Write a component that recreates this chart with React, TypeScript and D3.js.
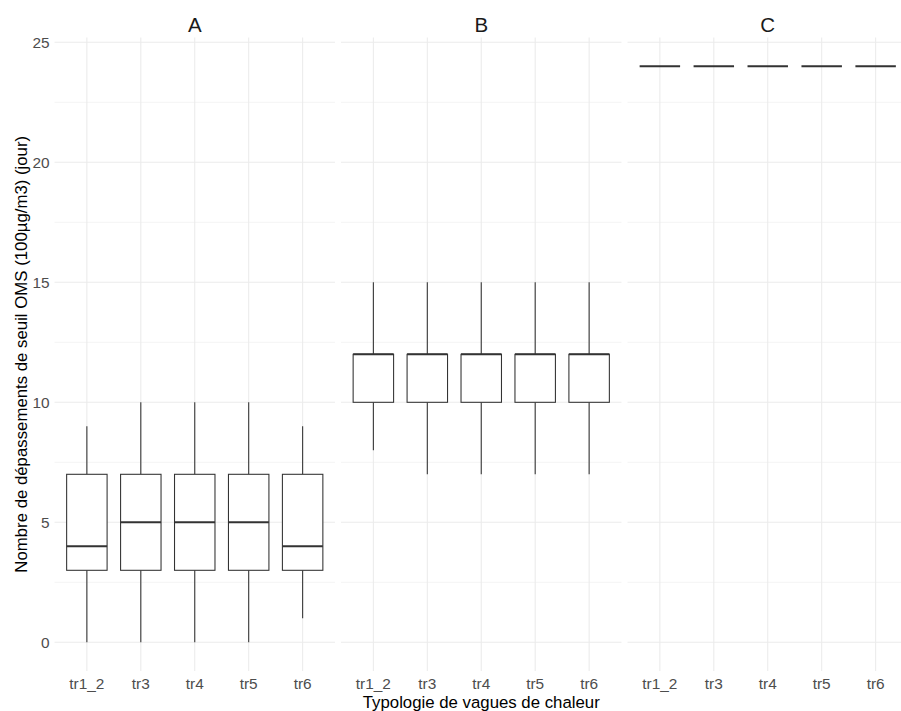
import React from "react";
import * as d3 from "d3";

// ---- data ----
const panels = ["A", "B", "C"];
const categories = ["tr1_2", "tr3", "tr4", "tr5", "tr6"];
// per panel (A, B, C), per category
const whiskerLow = [
  [0, 0, 0, 0, 1],
  [8, 7, 7, 7, 7],
  [24, 24, 24, 24, 24],
];
const quartile1 = [
  [3, 3, 3, 3, 3],
  [10, 10, 10, 10, 10],
  [24, 24, 24, 24, 24],
];
const medians = [
  [4, 5, 5, 5, 4],
  [12, 12, 12, 12, 12],
  [24, 24, 24, 24, 24],
];
const quartile3 = [
  [7, 7, 7, 7, 7],
  [12, 12, 12, 12, 12],
  [24, 24, 24, 24, 24],
];
const whiskerHigh = [
  [9, 10, 10, 10, 9],
  [15, 15, 15, 15, 15],
  [24, 24, 24, 24, 24],
];
const yTicks = [0, 5, 10, 15, 20, 25];
const yMinorTicks = [2.5, 7.5, 12.5, 17.5, 22.5];
const yDomain = [-1.2, 25.2];

const xTitle = "Typologie de vagues de chaleur";
const yTitle = "Nombre de dépassements de seuil OMS (100µg/m3) (jour)";

// ---- layout ----
const W = 901;
const H = 711;
const panelLeft = 54.5;
const panelWidth = 280.5;
const panelGap = 6;
const panelTop = 37.5;
const panelBottom = 671.1;
const FONT = "'Liberation Sans', Arial, Helvetica, sans-serif";

export default function App() {
  const y = d3.scaleLinear().domain(yDomain).range([panelBottom, panelTop]);
  const grid = "#ebebeb";
  const boxStroke = "#333333";

  return (
    <svg
      width={W}
      height={H}
      style={{ position: "absolute", left: 0, top: 0, background: "#fff" }}
      fontFamily={FONT}
    >
      <rect x={0} y={0} width={W} height={H} fill="#ffffff" />
      {panels.map((p, pi) => {
        const x0 = panelLeft + pi * (panelWidth + panelGap);
        const x1 = x0 + panelWidth;
        const x = d3.scalePoint<string>().domain(categories).range([x0, x1]).padding(0.6);
        const bw = x.step() * 0.75;
        return (
          <g key={p}>
            {/* minor grid */}
            {yMinorTicks.map((t) => (
              <line key={"mi" + t} x1={x0} x2={x1} y1={y(t)} y2={y(t)} stroke={grid} strokeWidth={0.55} />
            ))}
            {/* major grid */}
            {yTicks.map((t) => (
              <line key={"ma" + t} x1={x0} x2={x1} y1={y(t)} y2={y(t)} stroke={grid} strokeWidth={1.07} />
            ))}
            {categories.map((c) => (
              <line key={"v" + c} x1={x(c)} x2={x(c)} y1={panelTop} y2={panelBottom} stroke={grid} strokeWidth={1.07} />
            ))}
            {/* boxes */}
            {categories.map((c, ci) => {
              const cx = x(c) as number;
              const lo = whiskerLow[pi][ci];
              const q1 = quartile1[pi][ci];
              const md = medians[pi][ci];
              const q3 = quartile3[pi][ci];
              const hi = whiskerHigh[pi][ci];
              return (
                <g key={"b" + c}>
                  <line x1={cx} x2={cx} y1={y(hi)} y2={y(q3)} stroke={boxStroke} strokeWidth={1.07} />
                  <line x1={cx} x2={cx} y1={y(q1)} y2={y(lo)} stroke={boxStroke} strokeWidth={1.07} />
                  <rect
                    x={cx - bw / 2}
                    y={y(q3)}
                    width={bw}
                    height={Math.max(0, y(q1) - y(q3))}
                    fill="#ffffff"
                    stroke={boxStroke}
                    strokeWidth={1.07}
                  />
                  <line x1={cx - bw / 2} x2={cx + bw / 2} y1={y(md)} y2={y(md)} stroke={boxStroke} strokeWidth={2.13} />
                </g>
              );
            })}
            {/* strip label */}
            <text x={(x0 + x1) / 2} y={32.3} textAnchor="middle" fontSize={20.5} fill="#1a1a1a">
              {p}
            </text>
            {/* x tick labels */}
            {categories.map((c) => (
              <text key={"xt" + c} x={x(c)} y={689} textAnchor="middle" fontSize={15.4} fill="#4d4d4d">
                {c}
              </text>
            ))}
          </g>
        );
      })}
      {/* y tick labels */}
      {yTicks.map((t) => (
        <text key={"yt" + t} x={49.5} y={y(t)} dy="0.36em" textAnchor="end" fontSize={15.4} fill="#4d4d4d">
          {t}
        </text>
      ))}
      {/* axis titles */}
      <text
        x={panelLeft + (3 * panelWidth + 2 * panelGap) / 2}
        y={707.5}
        textAnchor="middle"
        fontSize={16.8}
        fill="#000000"
      >
        {xTitle}
      </text>
      <text
        transform={`translate(26.5, ${(panelTop + panelBottom) / 2}) rotate(-90)`}
        textAnchor="middle"
        fontSize={16.8}
        fill="#000000"
      >
        {yTitle}
      </text>
    </svg>
  );
}
